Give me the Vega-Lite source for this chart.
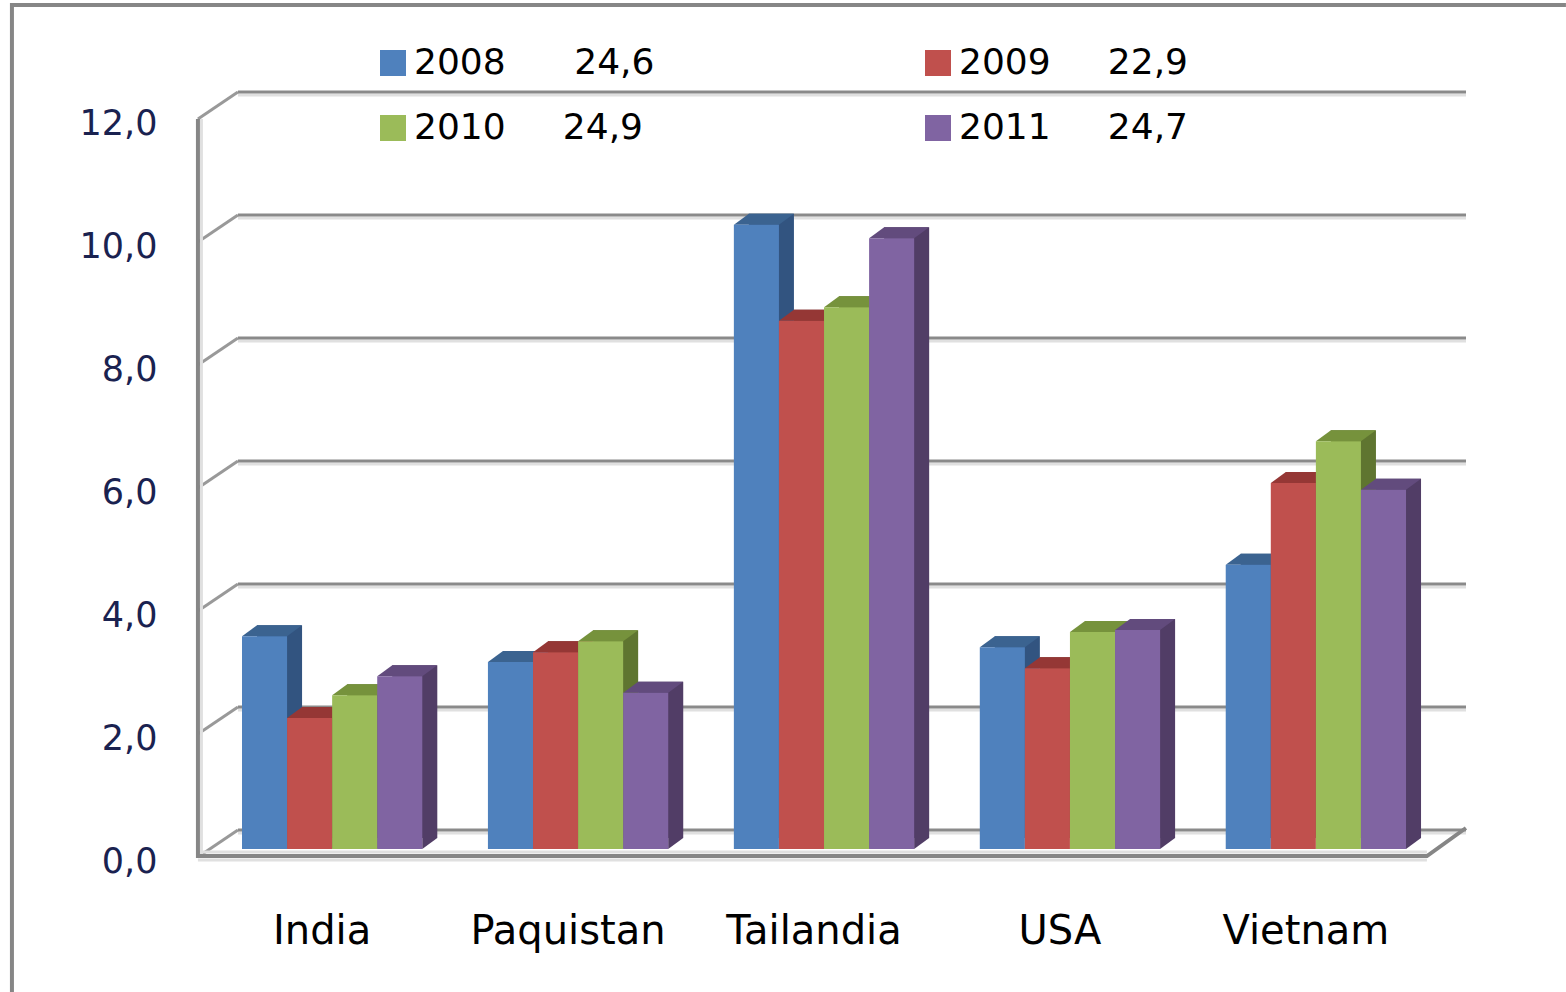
{
"$schema":"https://vega.github.io/schema/vega-lite/v6.json",
"width":1228,"height":738,
"autosize":{"type":"none"},
"padding":{"left":238,"top":92,"right":100,"bottom":162},
"background":"white",
"config":{"view":{"stroke":null},"font":"DejaVu Sans"},
"datasets":{
"bars":[
{"category":"India","series":"2008","value":3.46},{"category":"India","series":"2009","value":2.13},{"category":"India","series":"2010","value":2.5},{"category":"India","series":"2011","value":2.81},
{"category":"Paquistan","series":"2008","value":3.04},{"category":"Paquistan","series":"2009","value":3.2},{"category":"Paquistan","series":"2010","value":3.38},{"category":"Paquistan","series":"2011","value":2.54},
{"category":"Tailandia","series":"2008","value":10.15},{"category":"Tailandia","series":"2009","value":8.59},{"category":"Tailandia","series":"2010","value":8.81},{"category":"Tailandia","series":"2011","value":9.93},
{"category":"USA","series":"2008","value":3.28},{"category":"USA","series":"2009","value":2.94},{"category":"USA","series":"2010","value":3.53},{"category":"USA","series":"2011","value":3.56},
{"category":"Vietnam","series":"2008","value":4.62},{"category":"Vietnam","series":"2009","value":5.95},{"category":"Vietnam","series":"2010","value":6.63},{"category":"Vietnam","series":"2011","value":5.84}
],
"levels":[{"category":"India","level":0},{"category":"India","level":2},{"category":"India","level":4},{"category":"India","level":6},{"category":"India","level":8},{"category":"India","level":10},{"category":"India","level":12}],
"base":[{"category":"India","level":0}]
},
"encoding":{
"x":{"field":"category","type":"nominal","title":null,"scale":{"domain":["India","Paquistan","Tailandia","USA","Vietnam"],"range":[4,1168],"paddingInner":0.267,"paddingOuter":0},"axis":{"domain":false,"ticks":false,"labelAngle":0,"labelFontSize":40,"labelColor":"#000000","labelPadding":81,"labelOffset":-10,"labelOverlap":false,"labelBound":false,"labelFlush":false,"labelLimit":400}}
},
"resolve":{"scale":{"color":"independent","xOffset":"independent"}},
"layer":[
{"data":{"name":"levels"},"mark":{"type":"rule","color":"#E0E0E0","strokeWidth":3,"yOffset":3},"encoding":{"x":null,"y":{"field":"level","type":"quantitative","title":null,"scale":{"domain":[0,12],"nice":false,"zero":false},"axis":{"domain":false,"ticks":false,"grid":false,"values":[0,2,4,6,8,10,12],"labelExpr":"replace(format(datum.value,'.1f'),'.',',')","labelFontSize":35,"labelColor":"#1A2250","labelPadding":81,"labelOffset":31,"labelBound":false,"labelFlush":false}}}},
{"data":{"name":"levels"},"mark":{"type":"rule","color":"#8A8A8A","strokeWidth":3},"encoding":{"x":null,"y":{"field":"level","type":"quantitative"}}},
{"data":{"name":"levels"},"mark":{"type":"point","filled":false,"opacity":1,"size":4,"stroke":"#999999","strokeWidth":3,"shape":"M-94.2,0 L-134.2,27"},"encoding":{"y":{"field":"level","type":"quantitative"}}},
{"data":{"name":"base"},"mark":{"type":"point","filled":false,"opacity":1,"size":4,"stroke":"#E0E0E0","strokeWidth":3,"shape":"M-130.7,26 L-130.7,-711 M-134.2,22 L1094.8,22 M-134.2,30 L1094.8,30"},"encoding":{"y":{"field":"level","type":"quantitative"}}},
{"data":{"name":"base"},"mark":{"type":"point","filled":false,"opacity":1,"size":4,"stroke":"#868686","strokeWidth":4,"shape":"M-134.2,-711 L-134.2,26 L1094.8,26 L1133.8,-2"},"encoding":{"y":{"field":"level","type":"quantitative"}}},
{"data":{"name":"base"},"mark":{"type":"point","filled":false,"opacity":1,"size":4,"stroke":"#868686","strokeWidth":4,"shape":"M-320.2,162 L-320.2,-825 L1233.8,-825"},"encoding":{"y":{"field":"level","type":"quantitative"}}},
{"data":{"name":"bars"},"mark":{"type":"bar","yOffset":8,"y2Offset":8},"encoding":{"xOffset":{"field":"series","type":"nominal","scale":{"type":"band","range":[15,195.3],"paddingInner":0,"paddingOuter":0}},"y":{"field":"value","type":"quantitative"},"color":{"field":"series","type":"nominal","legend":null,"scale":{"range":["#325480","#6E2A28","#5F7530","#513D66"]}}}},
{"data":{"name":"bars"},"mark":{"type":"point","filled":true,"opacity":1,"size":4,"shape":"M22.5,19 L22.5,8 L37.5,8 Z"},"encoding":{"xOffset":{"field":"series","type":"nominal","scale":{"type":"band","range":[0,180.3],"paddingInner":0,"paddingOuter":0}},"y":{"datum":0},"color":{"field":"series","type":"nominal","legend":null,"scale":{"range":["#325480","#6E2A28","#5F7530","#513D66"]}}}},
{"data":{"name":"bars"},"mark":{"type":"point","filled":true,"opacity":1,"size":4,"shape":"M-22.5,19 L22.5,19 L37.5,8 L-7.5,8 Z"},"encoding":{"xOffset":{"field":"series","type":"nominal","scale":{"type":"band","range":[0,180.3],"paddingInner":0,"paddingOuter":0}},"y":{"field":"value","type":"quantitative"},"color":{"field":"series","type":"nominal","legend":null,"scale":{"range":["#3B6390","#953735","#76923C","#624B7D"]}}}},
{"data":{"name":"bars"},"mark":{"type":"bar","yOffset":19,"y2Offset":19},"encoding":{"xOffset":{"field":"series","type":"nominal","scale":{"type":"band","range":[0,180.3],"paddingInner":0,"paddingOuter":0}},"y":{"field":"value","type":"quantitative"},"color":{"field":"series","type":"nominal","scale":{"range":["#4F81BD","#C0504D","#9BBB59","#8064A2"]},"legend":{"orient":"none","direction":"horizontal","legendX":137,"legendY":-47,"columns":2,"title":null,"symbolType":"square","symbolSize":676,"symbolStrokeWidth":0,"symbolOpacity":1,"labelFontSize":36,"labelColor":"#000000","labelOffset":3,"labelLimit":400,"columnPadding":265,"rowPadding":29,"labelExpr":"datum.label=='2008'?'2008\u00a0\u00a0\u00a0\u00a0\u00a0\u00a024,6':datum.label=='2009'?'2009\u00a0\u00a0\u00a0\u00a0\u00a022,9':datum.label=='2010'?'2010\u00a0\u00a0\u00a0\u00a0\u00a024,9':'2011\u00a0\u00a0\u00a0\u00a0\u00a024,7'"}}}}
]
}
